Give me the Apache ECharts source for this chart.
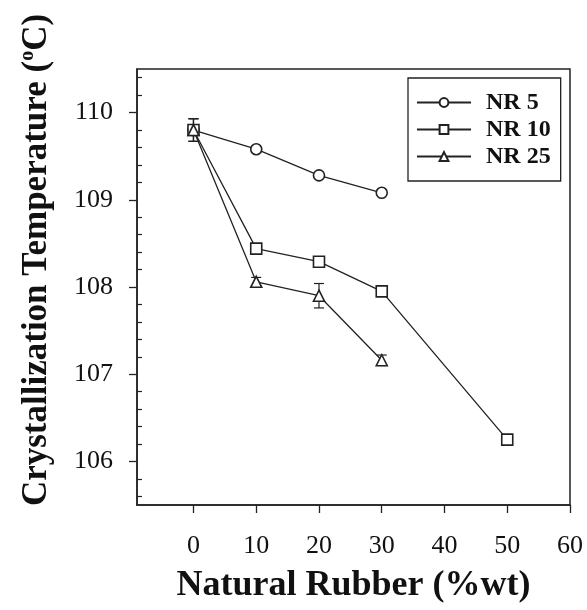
<!DOCTYPE html>
<html>
<head>
<meta charset="utf-8">
<script src="https://cdn.jsdelivr.net/npm/echarts@6/dist/echarts.min.js"></script>
<style>
  html, body { margin: 0; padding: 0; background: #ffffff; }
  #chart { width: 587px; height: 610px; }
</style>
</head>
<body>
<div id="chart"></div>
<script>
// Natural rubber content (%wt) for each blend
const xNR5 = [0, 10, 20, 30];
const xNR10 = [0, 10, 20, 30, 50];
const xNR25 = [0, 10, 20, 30];

// Crystallization temperature (°C) and standard deviation
const nr5 = [109.80, 109.58, 109.28, 109.08];
const nr5Err = [0.13, 0.03, 0.03, 0.03];
const nr10 = [109.80, 108.44, 108.29, 107.95, 106.25];
const nr10Err = [0.13, 0.05, 0.03, 0.05, 0.05];
const nr25 = [109.80, 108.06, 107.90, 107.16];
const nr25Err = [0.13, 0.05, 0.14, 0.06];

const seriesNames = ['NR 5', 'NR 10', 'NR 25'];
const xTickValues = [0, 10, 20, 30, 40, 50, 60];
const yTickValues = [106, 107, 108, 109, 110];
const yMinorTickValues = [105.6, 105.8, 106.2, 106.4, 106.6, 106.8, 107.2, 107.4, 107.6, 107.8,
  108.2, 108.4, 108.6, 108.8, 109.2, 109.4, 109.6, 109.8, 110.2, 110.4];

const ink = '#222222';
const serif = '"Liberation Serif", "Times New Roman", serif';

function pairs(xs, ys) { return xs.map((x, i) => [x, ys[i]]); }
function triples(xs, ys, es) { return xs.map((x, i) => [x, ys[i], es[i]]); }

function errorBar(params, api) {
  const x = api.value(0), y = api.value(1), e = api.value(2);
  const hi = api.coord([x, y + e]);
  const lo = api.coord([x, y - e]);
  const w = 5;
  const st = { stroke: ink, lineWidth: 1.2 };
  return {
    type: 'group',
    children: [
      { type: 'line', shape: { x1: hi[0], y1: hi[1], x2: lo[0], y2: lo[1] }, style: st },
      { type: 'line', shape: { x1: hi[0] - w, y1: hi[1], x2: hi[0] + w, y2: hi[1] }, style: st },
      { type: 'line', shape: { x1: lo[0] - w, y1: lo[1], x2: lo[0] + w, y2: lo[1] }, style: st }
    ]
  };
}

function lineSeries(name, data, symbol, size) {
  return {
    name: name,
    type: 'line',
    data: data,
    symbol: symbol,
    symbolSize: size,
    showAllSymbol: true,
    z: 3,
    lineStyle: { color: ink, width: 1.3 },
    itemStyle: { color: '#ffffff', borderColor: ink, borderWidth: 1.6 },
    emphasis: { disabled: true },
    animation: false
  };
}

function errSeries(data) {
  return {
    type: 'custom',
    renderItem: errorBar,
    data: data,
    z: 2,
    silent: true,
    animation: false
  };
}

const chart = echarts.init(document.getElementById('chart'), null, { renderer: 'canvas' });

chart.setOption({
  animation: false,
  backgroundColor: '#ffffff',
  grid: {
    left: 137, right: 17, top: 69, bottom: 105,
    show: true, borderColor: ink, borderWidth: 1.5, backgroundColor: 'transparent'
  },
  legend: {
    data: seriesNames,
    orient: 'vertical',
    left: 408,
    top: 78,
    padding: [11, 10, 11, 8],
    itemGap: 0,
    itemWidth: 54,
    itemHeight: 11,
    borderColor: ink,
    borderWidth: 1.3,
    backgroundColor: '#ffffff',
    textStyle: {
      fontFamily: serif, fontWeight: 'bold', fontSize: 24, color: '#111111',
      lineHeight: 27, padding: [0, 0, 0, 10]
    },
    selectedMode: false
  },
  xAxis: {
    type: 'value',
    min: -9,
    max: 60,
    name: 'Natural Rubber (%wt)',
    nameLocation: 'middle',
    nameGap: 63,
    nameTextStyle: { fontFamily: serif, fontWeight: 'bold', fontSize: 36, color: '#111111' },
    axisLine: { show: true, onZero: false, lineStyle: { color: ink, width: 1.5 } },
    axisTick: { show: true, inside: false, length: 8, customValues: xTickValues, lineStyle: { color: ink, width: 1.3 } },
    axisLabel: { customValues: xTickValues, fontFamily: serif, fontSize: 26, color: '#111111', margin: 28 },
    splitLine: { show: false }
  },
  yAxis: [
    {
      type: 'value',
      min: 105.5,
      max: 110.5,
      axisLine: { show: true, onZero: false, lineStyle: { color: ink, width: 1.5 } },
      axisTick: { show: true, inside: false, length: 8, customValues: yTickValues, lineStyle: { color: ink, width: 1.3 } },
      axisLabel: { customValues: yTickValues, fontFamily: serif, fontSize: 26, color: '#111111', margin: 24 },
      splitLine: { show: false }
    },
    {
      type: 'value',
      position: 'left',
      min: 105.5,
      max: 110.5,
      axisLine: { show: false, onZero: false },
      axisTick: { show: true, inside: true, length: 5, customValues: yMinorTickValues, lineStyle: { color: ink, width: 1.2 } },
      axisLabel: { show: false, customValues: yMinorTickValues },
      splitLine: { show: false }
    }
  ],
  graphic: [
    {
      type: 'text',
      x: 37,
      y: 260,
      rotation: Math.PI / 2,
      style: {
        text: '{t|Crystallization Temperature (}{s|o}{t|C)}',
        align: 'center',
        verticalAlign: 'middle',
        rich: {
          t: { fontFamily: serif, fontWeight: 'bold', fontSize: 35, fill: '#111111', lineHeight: 38 },
          s: { fontFamily: serif, fontWeight: 'bold', fontSize: 20, fill: '#111111', lineHeight: 38, verticalAlign: 'top', padding: [0, 0, 14, 0] }
        }
      }
    }
  ],
  series: [
    errSeries(triples(xNR5, nr5, nr5Err)),
    errSeries(triples(xNR10, nr10, nr10Err)),
    errSeries(triples(xNR25, nr25, nr25Err)),
    lineSeries('NR 5', pairs(xNR5, nr5), 'circle', 11),
    lineSeries('NR 10', pairs(xNR10, nr10), 'rect', 11),
    lineSeries('NR 25', pairs(xNR25, nr25), 'triangle', 11)
  ]
});
</script>
</body>
</html>
